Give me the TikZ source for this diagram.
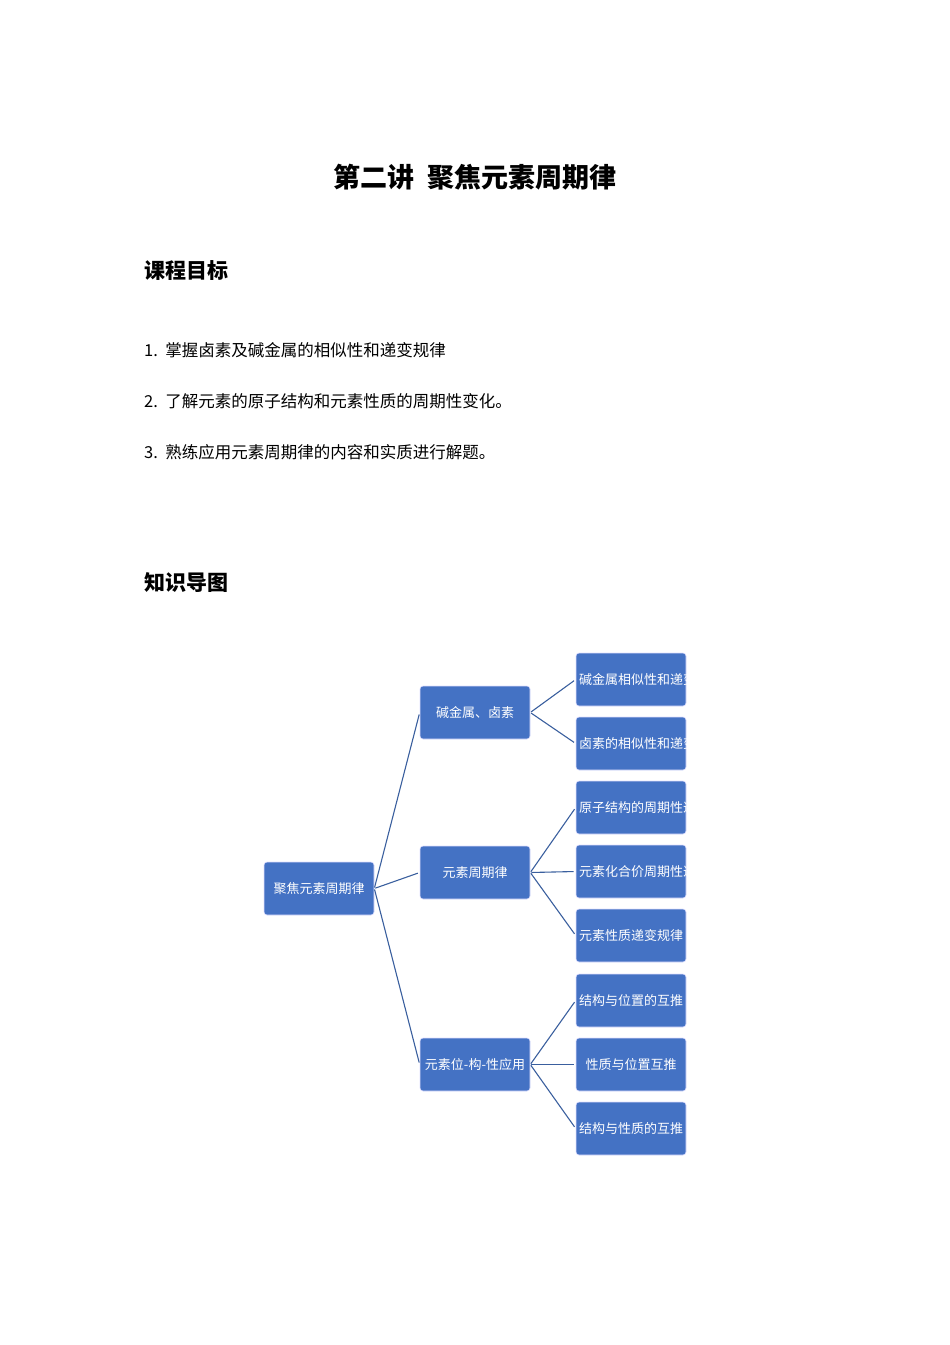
\documentclass[tikz,border=0pt]{standalone}
\usepackage{fontspec}
\setmainfont{Noto Sans CJK SC}
\begin{document}
\begin{tikzpicture}[x=1pt,y=-1pt,
  box/.style={draw=white!70!blue!40,line width=0.6pt,fill=bx,rounded corners=3pt,minimum width=110pt,minimum height=53pt,text width=104pt,align=center,text=white,font=\fontsize{13}{17.5}\selectfont,inner sep=0pt},
  con/.style={draw=ln,line width=1.1pt,shorten >=2pt,shorten <=1pt},
  txt/.style={anchor=west,font=\fontsize{16.5}{20}\selectfont,inner sep=0pt},
  hd/.style={anchor=west,font=\fontsize{21}{24}\selectfont\bfseries,inner sep=0pt}]
\definecolor{bx}{HTML}{4472C4}
\definecolor{ln}{HTML}{3A5F9E}
\useasboundingbox (0,0) rectangle (950,1345);
\node[font=\fontsize{27}{30}\selectfont\bfseries,inner sep=0pt] (title) at (475,177) {第二讲\ \ 聚焦元素周期律};
\node[hd] (h1) at (144,271) {课程目标};
\node[txt] (t1) at (144,350) {1.\ \ 掌握卤素及碱金属的相似性和递变规律};
\node[txt] (t2) at (144,401) {2.\ \ 了解元素的原子结构和元素性质的周期性变化。};
\node[txt] (t3) at (144,452) {3.\ \ 熟练应用元素周期律的内容和实质进行解题。};
\node[hd] (h2) at (144,583) {知识导图};
\node[box] (r) at (319,888.5) {聚焦元素周期律};
\node[box] (a) at (475,712.5) {碱金属、卤素};
\node[box] (b) at (475,872.5) {元素周期律};
\node[box] (c) at (475,1064.5) {元素位-构-性应用};
\node[box] (a1) at (631,679.5) {碱金属相似性和递变性};
\node[box] (a2) at (631,743.5) {卤素的相似性和递变性以及特性};
\node[box] (b1) at (631,807.5) {原子结构的周期性递变规律};
\node[box] (b2) at (631,871.5) {元素化合价周期性递变规律};
\node[box] (b3) at (631,935.5) {元素性质递变规律};
\node[box] (c1) at (631,1000.5) {结构与位置的互推};
\node[box] (c2) at (631,1064.5) {性质与位置互推};
\node[box] (c3) at (631,1128.5) {结构与性质的互推};
\foreach \p/\q in {r/a,r/b,r/c,a/a1,a/a2,b/b1,b/b2,b/b3,c/c1,c/c2,c/c3}
  \draw[con] (\p.east) -- (\q.west);
\end{tikzpicture}
\end{document}
